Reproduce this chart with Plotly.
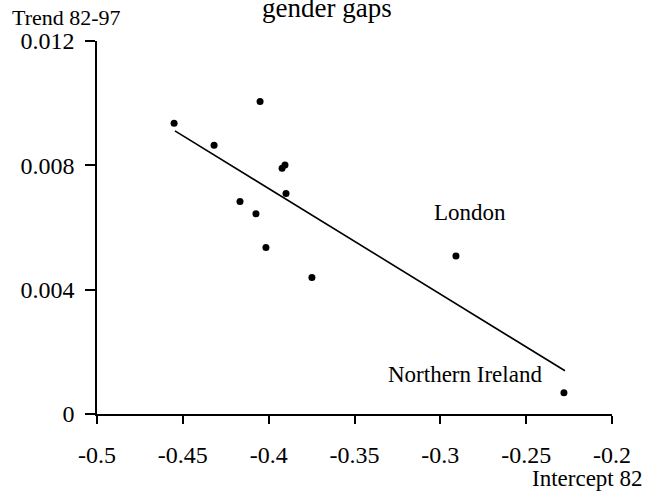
import plotly.graph_objects as go

# Data
intercept_82 = [-0.4551, -0.4318, -0.4050, -0.3922, -0.3905, -0.3899,
                -0.4167, -0.4074, -0.4016, -0.3748, -0.2909, -0.2280]
trend_82_97 = [0.00935, 0.00865, 0.01005, 0.00791, 0.00801, 0.00709,
               0.00684, 0.00644, 0.00536, 0.00439, 0.00508, 0.00068]
point_names = ["", "", "", "", "", "", "", "", "", "", "London", "Northern Ireland"]

fit_x = [-0.4546, -0.2274]
fit_y = [0.00911, 0.00139]

x_ticks = [-0.5, -0.45, -0.4, -0.35, -0.3, -0.25, -0.2]
x_tick_text = ["-0.5", "-0.45", "-0.4", "-0.35", "-0.3", "-0.25", "-0.2"]
y_ticks = [0, 0.004, 0.008, 0.012]
y_tick_text = ["0", "0.004", "0.008", "0.012"]

FONT = "Liberation Serif, Times New Roman, serif"

fig = go.Figure()
fig.add_trace(go.Scatter(x=fit_x, y=fit_y, mode="lines",
                         line=dict(color="black", width=1.6),
                         hoverinfo="skip", showlegend=False))
fig.add_trace(go.Scatter(x=intercept_82, y=trend_82_97, mode="markers",
                         marker=dict(color="black", size=7),
                         text=point_names, showlegend=False))

annotations = [
    dict(text="gender gaps", xref="paper", yref="paper", x=0.4466, y=1.088,
         xanchor="center", yanchor="middle", showarrow=False,
         font=dict(size=27, family=FONT, color="black")),
    dict(text="Trend 82-97", xref="paper", yref="paper", x=-0.169, y=1.062,
         xanchor="left", yanchor="middle", showarrow=False,
         font=dict(size=22, family=FONT, color="black")),
    dict(text="Intercept 82", xref="paper", yref="paper", x=1.062, y=-0.1716,
         xanchor="right", yanchor="middle", showarrow=False,
         font=dict(size=23, family=FONT, color="black")),
]
label_shifts = {"London": (14, 44), "Northern Ireland": (-99, 18)}
for xv, yv, name in zip(intercept_82, trend_82_97, point_names):
    if name:
        dx, dy = label_shifts[name]
        annotations.append(dict(text=name, x=xv, y=yv, xref="x", yref="y",
                                xshift=dx, yshift=dy, showarrow=False,
                                xanchor="center", yanchor="middle",
                                font=dict(size=23, family=FONT, color="black")))

fig.update_layout(
    width=645, height=494,
    margin=dict(l=97, r=33, t=41, b=80),
    paper_bgcolor="white", plot_bgcolor="white",
    font=dict(family=FONT, color="black"),
    annotations=annotations,
    xaxis=dict(range=[-0.5, -0.2], tickvals=x_ticks, ticktext=x_tick_text,
               showgrid=False, zeroline=False, showline=True,
               linecolor="black", linewidth=1.6,
               ticks="outside", ticklen=8, tickwidth=1.6, tickcolor="black",
               ticklabelstandoff=10,
               tickfont=dict(size=24, family=FONT, color="black")),
    yaxis=dict(range=[0, 0.012], tickvals=y_ticks, ticktext=y_tick_text,
               showgrid=False, zeroline=False, showline=True,
               linecolor="black", linewidth=1.6,
               ticks="outside", ticklen=10, tickwidth=1.6, tickcolor="black",
               ticklabelstandoff=6,
               tickfont=dict(size=24, family=FONT, color="black")),
)

fig.write_html("out.html")
